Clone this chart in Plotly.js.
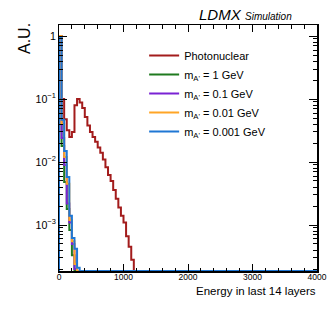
<!DOCTYPE html>
<html>
<head>
<meta charset="utf-8">
<script src="https://cdn.plot.ly/plotly-3.0.1.min.js"></script>
<style>html,body{margin:0;padding:0;background:#fff;}#chart{width:332px;height:319px;}</style>
</head>
<body>
<div id="chart"></div>
<script>
// Histogram: 100 bins of width 40 from 0 to 4000 (bins not listed are empty)
const binWidth = 40;
const nBins = 100;
const seriesNames = ["Photonuclear", "m<sub>A'</sub> = 1 GeV", "m<sub>A'</sub> = 0.1 GeV", "m<sub>A'</sub> = 0.01 GeV", "m<sub>A'</sub> = 0.001 GeV"];
const seriesColors = ["#a31c1c", "#1f7a1f", "#7a22d4", "#ffa526", "#1f77d4"];
const photonuclear = [0.1, 0.1, 0.048, 0.032, 0.025, 0.03, 0.08, 0.1, 0.088, 0.072, 0.052, 0.038, 0.030, 0.025, 0.021, 0.017, 0.014, 0.011, 0.0083, 0.0062, 0.0050, 0.0036, 0.0026, 0.0019, 0.0014, 0.0011, 0.00066, 0.00045, 0.00028];
const mAp1 = [1.0, 0.018, 0.0048, 0.0018, 0.00083, 0.00033];
const mAp01 = [1.0, 0.024, 0.009, 0.0022, 0.0011, 0.0005, 0.0002];
const mAp001 = [1.0, 0.04, 0.012, 0.0045, 0.0012, 0.00055, 0.00024];
const mAp0001 = [0.97, 0.047, 0.015, 0.0058, 0.0014, 0.00062, 0.00042, 0.00021];
const xTickVals = [0, 1000, 2000, 3000, 4000];

const yMin = 1.86e-4, yMax = 1.5;
const allSeries = [photonuclear, mAp1, mAp01, mAp001, mAp0001];

function stepTrace(vals, name, color) {
  const x = [0], y = [yMin];
  for (let i = 0; i < nBins; i++) {
    const v = i < vals.length ? vals[i] : 0;
    x.push(i * binWidth);
    y.push(Math.max(v, yMin));
  }
  const last = y[y.length - 1];
  x.push(nBins * binWidth); y.push(last);
  return {x: x, y: y, type: 'scatter', mode: 'lines', name: name,
          line: {color: color, width: 2, shape: 'hv'}, hoverinfo: 'skip'};
}

const traces = allSeries.map((s, i) => stepTrace(s, seriesNames[i], seriesColors[i]));

const font = "Liberation Sans, Arial, Helvetica, sans-serif";
const layout = {
  width: 332, height: 319,
  margin: {l: 59, r: 15, t: 25, b: 48},
  paper_bgcolor: '#fff', plot_bgcolor: '#fff',
  font: {family: font, color: '#000'},
  showlegend: true,
  legend: {x: 0.33, y: 0.935, xanchor: 'left', yanchor: 'top', bgcolor: 'rgba(0,0,0,0)',
           font: {size: 11, family: font}, itemwidth: 30, tracegroupgap: 0},
  xaxis: {range: [0, 4000], tickvals: xTickVals, ticktext: xTickVals.map(String),
          ticks: 'inside', ticklen: 7, tickcolor: '#000', tickwidth: 1,
          minor: {dtick: 200, ticks: 'inside', ticklen: 3.5, tickcolor: '#000', tickwidth: 1},
          showline: true, linecolor: '#000', linewidth: 1.5, mirror: 'allticks',
          showgrid: false, zeroline: false, ticklabelstandoff: -3,
          tickfont: {size: 8.5, family: font}},
  yaxis: {type: 'log', range: [Math.log10(yMin), Math.log10(yMax)], dtick: 1,
          exponentformat: 'power', showexponent: 'all',
          ticks: 'inside', ticklen: 8, tickcolor: '#000', tickwidth: 1,
          minor: {dtick: 'D1', ticks: 'inside', ticklen: 4, tickcolor: '#000', tickwidth: 1},
          showline: true, linecolor: '#000', linewidth: 1.5, mirror: 'allticks',
          showgrid: false, zeroline: false,
          tickfont: {size: 8.5, family: font}},
  annotations: [
    {xref: 'paper', yref: 'paper', x: 0.535, y: 1.0, xanchor: 'left', yanchor: 'bottom', yshift: 0,
     text: '<i>LDMX</i>', showarrow: false, font: {size: 15, family: font}},
    {xref: 'paper', yref: 'paper', x: 0.715, y: 1.0, xanchor: 'left', yanchor: 'bottom', yshift: 1,
     text: '<i>Simulation</i>', showarrow: false, font: {size: 10, family: font}},
    {xref: 'paper', yref: 'paper', x: 0, y: 1.0, xanchor: 'right', yanchor: 'top', xshift: -24, yshift: 4,
     text: 'A.U.', textangle: -90, showarrow: false, font: {size: 16, family: font}},
    {xref: 'paper', yref: 'paper', x: 1, y: -0.08, xanchor: 'right', yanchor: 'middle', xshift: 1,
     text: 'Energy in last 14 layers', showarrow: false, font: {size: 11.5, family: font}}
  ]
};

Plotly.newPlot('chart', traces, layout, {displayModeBar: false, staticPlot: true});
</script>
</body>
</html>
